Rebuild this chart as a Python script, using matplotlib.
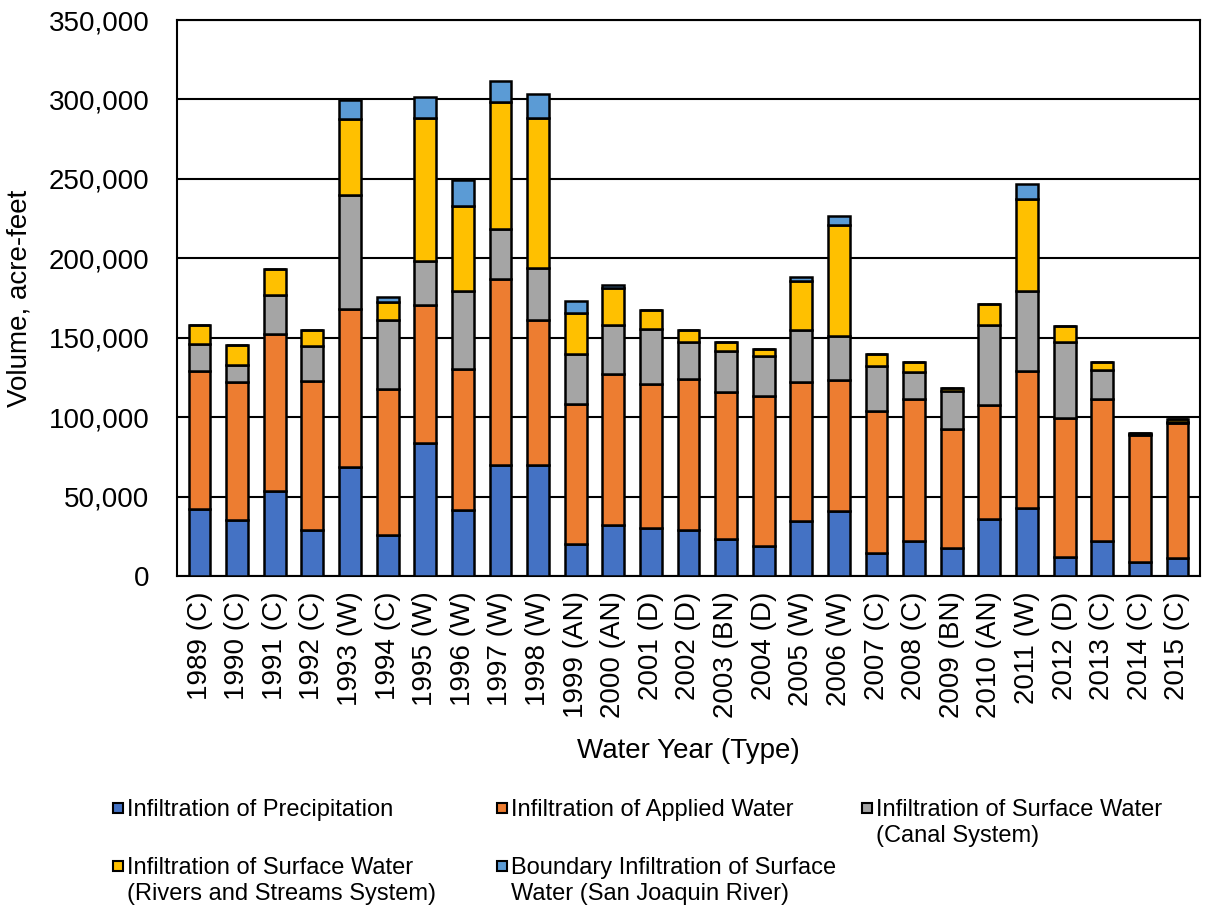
import numpy as np
import matplotlib
matplotlib.use("Agg")
import matplotlib.pyplot as plt
from matplotlib.patches import Rectangle
from matplotlib.ticker import FuncFormatter

plt.rcParams['font.family'] = ['Liberation Sans', 'DejaVu Sans']

years = ['1989 (C)', '1990 (C)', '1991 (C)', '1992 (C)', '1993 (W)', '1994 (C)',
         '1995 (W)', '1996 (W)', '1997 (W)', '1998 (W)', '1999 (AN)', '2000 (AN)',
         '2001 (D)', '2002 (D)', '2003 (BN)', '2004 (D)', '2005 (W)', '2006 (W)',
         '2007 (C)', '2008 (C)', '2009 (BN)', '2010 (AN)', '2011 (W)', '2012 (D)',
         '2013 (C)', '2014 (C)', '2015 (C)']

precipitation = [42400, 35500, 53300, 28800, 68600, 25900, 83700, 41800, 70100,
                 70100, 20200, 32400, 30300, 28800, 23000, 18800, 34500, 41200,
                 14600, 22300, 17700, 36000, 42900, 12100, 21900, 8700, 11200]
applied_water = [86400, 86400, 98800, 93700, 99400, 91800, 86600, 88500, 116800,
                 91200, 88100, 94700, 90500, 95400, 92600, 94700, 87600, 82400,
                 89500, 89100, 74800, 71400, 86300, 87400, 89500, 80300, 85100]
canal = [17200, 11100, 24900, 22000, 71900, 43200, 27700, 48800, 31400,
         32300, 31200, 31000, 34600, 23300, 25800, 25200, 32900, 27600,
         28300, 17000, 23700, 50700, 50500, 47700, 18500, 500, 500]
rivers = [12100, 12200, 16400, 10100, 47600, 11500, 90500, 54100, 79900,
          94500, 26000, 23100, 11800, 7300, 5800, 4400, 30800, 69800,
          7500, 6300, 2100, 13000, 57900, 10300, 4600, 300, 2200]
san_joaquin = [0, 0, 0, 0, 12100, 3100, 12800, 16100, 13600,
               15300, 7900, 1700, 0, 0, 0, 0, 2700, 5700,
               0, 0, 0, 0, 9400, 0, 0, 0, 0]

series = [
    ('Infiltration of Precipitation', precipitation, '#4472C4'),
    ('Infiltration of Applied Water', applied_water, '#ED7D31'),
    ('Infiltration of Surface Water\n(Canal System)', canal, '#A5A5A5'),
    ('Infiltration of Surface Water\n(Rivers and Streams System)', rivers, '#FFC000'),
    ('Boundary Infiltration of Surface\nWater (San Joaquin River)', san_joaquin, '#5B9BD5'),
]

W, H = 1208, 913
fig = plt.figure(figsize=(W / 100, H / 100), dpi=100)
ax = fig.add_axes([177 / W, 1 - 576 / H, 1023 / W, 556 / H])

x = np.arange(len(years))
bottom = np.zeros(len(years))
for label, vals, color in series:
    vals = np.array(vals, dtype=float)
    ax.bar(x, vals, 0.58, bottom=bottom, color=color, edgecolor='black',
           linewidth=1.8, label=label, zorder=3)
    bottom += vals

ax.set_ylim(0, 350000)
ax.set_xlim(-0.6, len(years) - 0.4)
ax.set_yticks(np.arange(0, 350001, 50000))
ax.yaxis.set_major_formatter(FuncFormatter(lambda v, p: f'{int(v):,}'))
ax.grid(axis='y', color='black', linewidth=1.5, zorder=0)
ax.set_xticks(x)
ax.set_xticklabels(years, rotation=90)
ax.tick_params(axis='both', labelsize=20, length=0)
ax.tick_params(axis='y', pad=20)
ax.tick_params(axis='x', pad=11)
for s in ax.spines.values():
    s.set_linewidth(1.5)
    s.set_color('black')

ax.set_ylabel('Volume, acre-feet', fontsize=20)
ax.yaxis.set_label_coords(-0.141, 0.5)
ax.set_xlabel('Water Year (Type)', fontsize=20, va='top')
ax.xaxis.set_label_coords(0.5, -0.291)

# legend drawn by hand, Excel style (marker aligned with first line)
leg_pos = [(113, 808), (497, 808), (862, 808), (113, 866), (497, 866)]
for (label, vals, color), (px, py) in zip(series, leg_pos):
    fig.add_artist(Rectangle((px / W, 1 - (py + 5) / H), 10 / W, 10 / H,
                             facecolor=color, edgecolor='black', linewidth=1.5,
                             transform=fig.transFigure))
    fig.text((px + 14) / W, 1 - (py - 9) / H, label, fontsize=17,
             ha='left', va='top', linespacing=1.25)

fig.savefig('out.png', dpi=100)
